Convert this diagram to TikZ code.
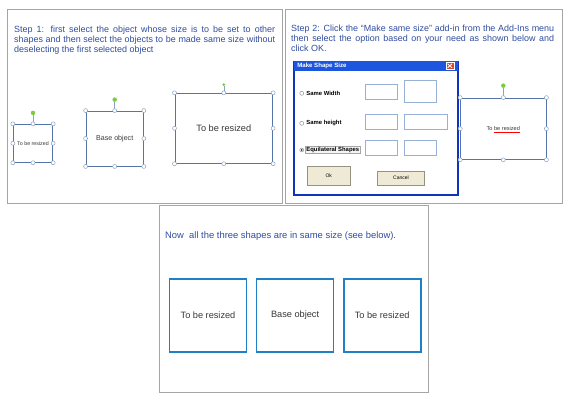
\documentclass[tikz,border=0pt]{standalone}
\usepackage{fontspec}
\setmainfont{Liberation Sans}
\usetikzlibrary{positioning}

\definecolor{stepblue}{RGB}{46,76,158}
\definecolor{panelgray}{RGB}{165,165,165}
\definecolor{selblue}{RGB}{84,116,170}
\definecolor{handlegray}{RGB}{140,162,192}
\definecolor{rotgreen}{RGB}{124,204,60}
\definecolor{textgray}{RGB}{55,55,55}
\definecolor{dlgblue}{RGB}{16,52,190}
\definecolor{titleblue}{RGB}{28,86,222}
\definecolor{fieldblue}{RGB}{150,176,214}
\definecolor{btnbeige}{RGB}{238,234,214}
\definecolor{btnedge}{RGB}{150,146,130}
\definecolor{closered}{RGB}{216,72,40}
\definecolor{finalblue}{RGB}{32,128,198}

\hyphenpenalty=10000
\exhyphenpenalty=10000

% handles round a selected shape
\newcommand{\selhandles}[1]{%
  \foreach \h in {north west,north,north east,east,south east,south,south west,west}
    \draw[handle] (#1.\h) circle (2);
}

\begin{document}
\begin{tikzpicture}[
  x=1pt, y=-1pt,
  panel/.style={draw=panelgray, line width=1pt, inner sep=0pt, anchor=north west},
  steptxt/.style={text=stepblue, align=justify, text width=261pt, anchor=north west,
                  inner sep=0pt, font=\fontsize{8.95}{10}\selectfont},
  selbox/.style={draw=selblue, line width=0.9pt, inner sep=0pt, text=textgray},
  handle/.style={draw=handlegray, fill=white, line width=0.5pt},
  rotdot/.style={circle, fill=rotgreen, minimum size=4.5, inner sep=0pt},
  rotline/.style={draw=handlegray, line width=0.5pt},
  dlg/.style={draw=dlgblue, line width=1.4pt, fill=white, inner sep=0pt, anchor=north west},
  titlebar/.style={fill=titleblue, inner sep=0pt, anchor=north west},
  dlgtxt/.style={font=\fontsize{5.9}{7}\selectfont\bfseries, inner sep=0.8pt, anchor=west},
  field/.style={draw=fieldblue, line width=0.8pt, fill=white, inner sep=0pt},
  radio/.style={circle, draw=gray, fill=white, line width=0.4pt, minimum size=4, inner sep=0pt},
  btn/.style={draw=btnedge, fill=btnbeige, line width=0.6pt, inner sep=0pt,
              font=\fontsize{5}{6}\selectfont},
  finalbox/.style={draw=finalblue, line width=1.6pt, minimum width=77, minimum height=73,
                   inner sep=0pt, text=textgray, font=\fontsize{9.2}{11}\selectfont}
]
\useasboundingbox (0,0) rectangle (570,400);

%--- step 1 ------------------------------------------------------------------
\node[panel, minimum width=275, minimum height=194] (p1) at (7,9) {};
\node[steptxt] (s1) at (14,25.6)
  {Step 1: first select the object whose size is to be set to other\linebreak
   shapes and then select the objects to be made same size without\linebreak
   deselecting the first selected object};

\node[selbox, minimum width=39.4, minimum height=38,
      font=\fontsize{5.3}{6}\selectfont] (sa) at (33,143.3) {To be resized};
\node[selbox, minimum width=57.3, minimum height=55,
      font=\fontsize{7.1}{8}\selectfont] (sb) at (114.7,138.5) {Base object};
\node[selbox, minimum width=97.7, minimum height=70,
      font=\fontsize{9.2}{11}\selectfont] (sc) at (223.8,128.3) {To be resized};
\node[rotdot, above=8.5pt of sa] (sa-r) {};
\node[rotdot, above=8.5pt of sb] (sb-r) {};
\node[rotdot, above=6.5pt of sc, minimum size=3] (sc-r) {};
\foreach \b in {sa,sb,sc} {
  \draw[rotline] (\b-r) -- (\b.north);
  \selhandles{\b}
}

%--- step 2 ------------------------------------------------------------------
\node[panel, minimum width=277, minimum height=194] (p2) at (285,9) {};
\node[steptxt, text width=263pt] (s2) at (291,25)
  {Step 2: Click the ``Make same size'' add-in from the Add-Ins menu\linebreak
   then select the option based on your need as shown below and\linebreak
   click OK.};

\node[dlg, minimum width=164, minimum height=133.3] (dl) at (293.3,61) {};
\node[titlebar, minimum width=164, minimum height=9.5] (tb) at (dl.north west) {};
\node[dlgtxt, text=white, font=\fontsize{6.1}{7}\selectfont\bfseries] (tt)
  at ([xshift=3pt]tb.west) {Make Shape Size};
\node[fill=closered, draw=white, line width=0.4pt, minimum width=8,
      minimum height=7.5, inner sep=0pt] (cls) at (449.8,65.8) {};
\draw[white, line width=0.8pt] ([shift={(-2.2,-2)}]cls.center) -- ([shift={(2.2,2)}]cls.center);
\draw[white, line width=0.8pt] ([shift={(-2.2,2)}]cls.center) -- ([shift={(2.2,-2)}]cls.center);

\node[radio] (r1) at (301.7,93.3) {};
\node[radio] (r2) at (301.7,123.3) {};
\node[radio] (r3) at (301.7,150) {};
\fill (r3) circle (0.9);
\node[dlgtxt, right=1.5pt of r1] (l1) {Same Width};
\node[dlgtxt, right=1.5pt of r2] (l2) {Same height};
\node[dlgtxt, right=1.5pt of r3, draw=gray!70, fill=gray!8, line width=0.4pt] (l3) {Equilateral Shapes};

\node[field, minimum width=31.7, minimum height=15.3] (f1a) at (381.2,91.7) {};
\node[field, minimum width=31.7, minimum height=22.7] (f1b) at (420.2,91.3) {};
\node[field, minimum width=31.7, minimum height=15.3] (f2a) at (381.2,121.7) {};
\node[field, minimum width=43.4, minimum height=15.3] (f2b) at (426,121.7) {};
\node[field, minimum width=31.7, minimum height=15.7] (f3a) at (381.2,147.8) {};
\node[field, minimum width=31.7, minimum height=15.7] (f3b) at (420.2,147.8) {};

\node[btn, minimum width=42.7, minimum height=18.3] (ok) at (328.7,175.8) {Ok};
\node[btn, minimum width=46.7, minimum height=14] (cn) at (401,178) {Cancel};

\node[selbox, minimum width=85.3, minimum height=61.3,
      font=\fontsize{5.6}{6}\selectfont] (sd) at (503.3,128.7) {To be resized};
\draw[red, line width=0.4pt] ([shift={(-9,3.4)}]sd.center) -- ([shift={(17,3.4)}]sd.center);
\node[rotdot, above=9.5pt of sd] (sd-r) {};
\draw[rotline] (sd-r) -- (sd.north);
\selhandles{sd}

%--- result ------------------------------------------------------------------
\node[panel, minimum width=269, minimum height=187] (p3) at (159,205) {};
\node[steptxt, align=left, text width=, font=\fontsize{9.4}{11}\selectfont] (s3) at (165,231)
  {Now\ \ all the three shapes are in same size (see below).};
\node[finalbox] (e1) at (208,315.2) {To be resized};
\node[finalbox, right=8.5pt of e1] (e2) {Base object};
\node[finalbox, right=8.5pt of e2] (e3) {To be resized};
\end{tikzpicture}
\end{document}
